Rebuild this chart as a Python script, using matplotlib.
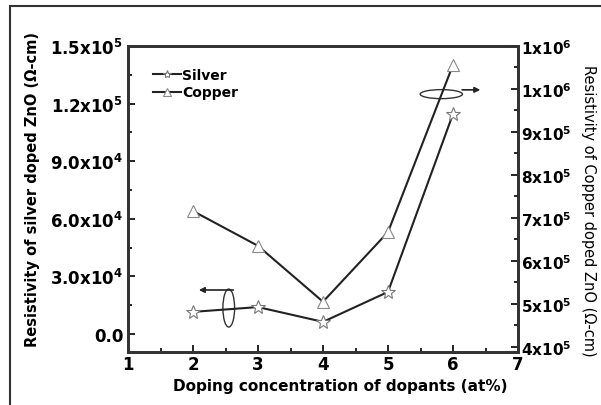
import matplotlib.pyplot as plt
from matplotlib.patches import Ellipse, Rectangle
from matplotlib.ticker import MultipleLocator

# data
x_conc = [2, 3, 4, 5, 6]
silver = [11500, 14000, 6300, 21900, 114600]       # left axis
copper = [7.16e5, 6.35e5, 5.05e5, 6.67e5, 1.056e6]  # right axis

left_ticks = [0, 3e4, 6e4, 9e4, 1.2e5, 1.5e5]
left_labels = ['0.0', r'3.0x10$^4$', r'6.0x10$^4$', r'9.0x10$^4$',
               r'1.2x10$^5$', r'1.5x10$^5$']
right_ticks = [4e5, 5e5, 6e5, 7e5, 8e5, 9e5, 1e6, 1.1e6]
right_labels = [r'4x10$^5$', r'5x10$^5$', r'6x10$^5$', r'7x10$^5$',
                r'8x10$^5$', r'9x10$^5$', r'1x10$^6$', r'1x10$^6$']

plt.rcParams['font.family'] = 'DejaVu Sans'
plt.rcParams['font.weight'] = 'bold'
plt.rcParams['mathtext.default'] = 'bf'

fig = plt.figure(figsize=(6.01, 4.06), dpi=100)
ax = fig.add_axes([128 / 601, 1 - 353 / 406, 390 / 601, 306 / 406])
ax2 = ax.twinx()

# outer frame of the figure
fig.patches.append(Rectangle((10 / 601, -0.1), 1.2, 1.1 - 7 / 406,
                             transform=fig.transFigure, fill=False,
                             lw=1.5, ec='#333333'))

l1, = ax.plot(x_conc, silver, color='#222222', lw=1.5, marker='*',
              ms=10, mfc='white', mec='#777777', mew=0.8, label='Silver')
l2, = ax2.plot(x_conc, copper, color='#222222', lw=1.5, marker='^',
               ms=9, mfc='white', mec='#888888', mew=0.8, label='Copper')

ax.set_xlim(1, 7)
ax.set_ylim(-9400, 1.5e5)
ax2.set_ylim(3.88e5, 1.1e6)

ax.set_xticks([1, 2, 3, 4, 5, 6, 7])
ax.xaxis.set_minor_locator(MultipleLocator(0.5))
ax.set_yticks(left_ticks)
ax.set_yticklabels(left_labels)
ax.yaxis.set_minor_locator(MultipleLocator(15000))
ax2.set_yticks(right_ticks)
ax2.set_yticklabels(right_labels)
ax2.yaxis.set_minor_locator(MultipleLocator(50000))

for a in (ax, ax2):
    a.tick_params(which='both', direction='in', labelsize=11, width=1.2)
    a.tick_params(which='major', length=5)
    a.tick_params(which='minor', length=3)
    for s in a.spines.values():
        s.set_linewidth(2)
        s.set_color('#333333')
ax.tick_params(axis='x', labelsize=12, pad=2)
ax.tick_params(axis='y', labelsize=12)
ax2.tick_params(axis='y', labelsize=11, pad=2)

ax.set_xlabel('Doping concentration of dopants (at%)', fontsize=11,
              fontweight='bold', labelpad=4)
ax.xaxis.set_label_coords(0.545, -0.085)
ax.set_ylabel('Resistivity of silver doped ZnO (Ω-cm)', fontsize=10.5,
              fontweight='bold', va='center')
ax.yaxis.set_label_coords(-0.245, 0.535)
ax2.set_ylabel('Resistivity of Copper doped ZnO (Ω-cm)', fontsize=10.5,
               fontweight='normal', rotation=-90, va='center')
ax2.yaxis.set_label_coords(1.18, 0.465)

ax.legend([l1, l2], ['Silver', 'Copper'], loc='upper left',
          bbox_to_anchor=(0.04, 0.96), frameon=False, fontsize=10,
          handlelength=2.0, handletextpad=0.1, labelspacing=0.25,
          borderpad=0.2, markerscale=0.6)

# ellipses with arrows marking which axis each curve belongs to
ax.add_patch(Ellipse((2.55, 13500), 0.18, 19800, fill=False, lw=1,
                     ec='#333333'))
ax.annotate('', xy=(2.09, 22900), xytext=(2.62, 22900),
            arrowprops=dict(arrowstyle='-|>', color='#222222', lw=1.2,
                            mutation_scale=8, shrinkA=0, shrinkB=0))
ax2.add_patch(Ellipse((5.82, 9.88e5), 0.65, 2.1e4, fill=False, lw=1,
                      ec='#333333'))
ax2.annotate('', xy=(6.42, 9.98e5), xytext=(6.14, 9.98e5),
             arrowprops=dict(arrowstyle='-|>', color='#222222', lw=1.2,
                             mutation_scale=8, shrinkA=0, shrinkB=0))

fig.savefig('out.png', dpi=100)
